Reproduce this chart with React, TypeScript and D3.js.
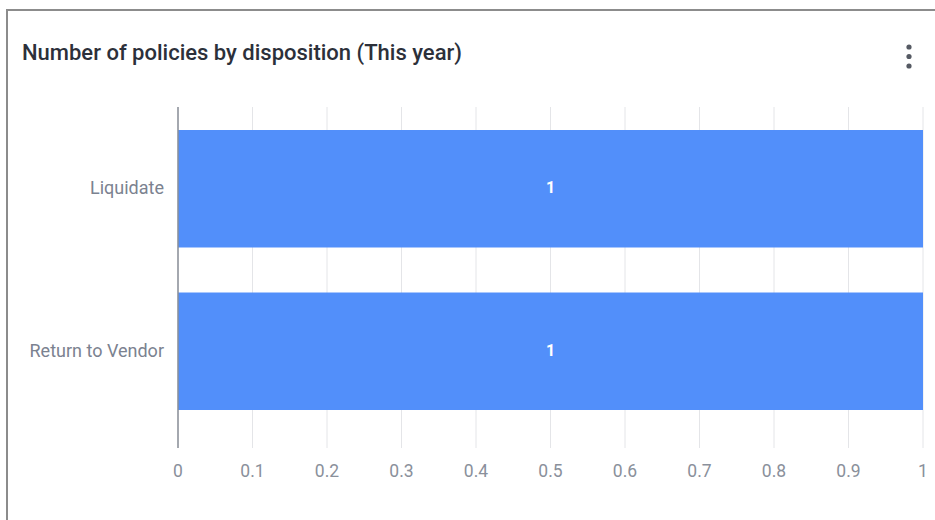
import React from "react";
import * as d3 from "d3";

const categories = ["Liquidate", "Return to Vendor"];
const values = [1, 1];
const xTicks = [0, 0.1, 0.2, 0.3, 0.4, 0.5, 0.6, 0.7, 0.8, 0.9, 1];
const title = "Number of policies by disposition (This year)";

export default function App() {
  const W = 935, H = 520;
  const x = d3.scaleLinear().domain([0, 1]).range([178, 923]);
  const y = d3.scaleBand<string>().domain(categories).range([130, 410]).paddingInner(0.277).paddingOuter(0);
  const plotTop = 107, plotBottom = 448;
  const font = "Roboto, 'Noto Sans', sans-serif";
  return (
    <svg width={W} height={H} style={{ position: "absolute", left: 0, top: 0, background: "#fff" }} fontFamily={font}>
      <rect x={0} y={0} width={W} height={H} fill="#fff" />
      {/* frame */}
      <line x1={7} y1={10} x2={W} y2={10} stroke="#8c8c8c" strokeWidth={2} />
      <line x1={7} y1={9} x2={7} y2={H} stroke="#8c8c8c" strokeWidth={2} />
      <text x={22} y={52} dy="0.35em" fontSize={22} fontWeight={500} fill="#2c303a">{title}</text>
      {[47, 56.5, 66].map((cy, i) => (
        <circle key={i} cx={909} cy={cy} r={2.6} fill="#555a63" />
      ))}
      {/* grid */}
      {xTicks.map((t, i) => (
        <line key={"g" + i} x1={x(t)} x2={x(t)} y1={plotTop} y2={plotBottom} stroke="#e4e5e8" strokeWidth={1} />
      ))}
      {/* bars */}
      {categories.map((c, i) => (
        <g key={c}>
          <rect x={x(0)} y={y(c)!} width={x(values[i]) - x(0)} height={y.bandwidth()} fill="#528ffa" />
          <text x={(x(0) + x(values[i])) / 2} y={y(c)! + y.bandwidth() / 2 - 1} dy="0.35em" textAnchor="middle" fontSize={16} fontWeight={700} fill="#fff">{values[i]}</text>
          <text x={164} y={y(c)! + y.bandwidth() / 2 - 1} dy="0.35em" textAnchor="end" fontSize={18} fill="#7b8290">{c}</text>
        </g>
      ))}
      {/* y axis line */}
      <line x1={x(0)} x2={x(0)} y1={plotTop} y2={plotBottom} stroke="#8a8f98" strokeWidth={1.5} />
      {/* x tick labels */}
      {xTicks.map((t, i) => (
        <text key={"t" + i} x={x(t)} y={471} dy="0.35em" textAnchor="middle" fontSize={17.5} fill="#8a909b">{String(t)}</text>
      ))}
    </svg>
  );
}
